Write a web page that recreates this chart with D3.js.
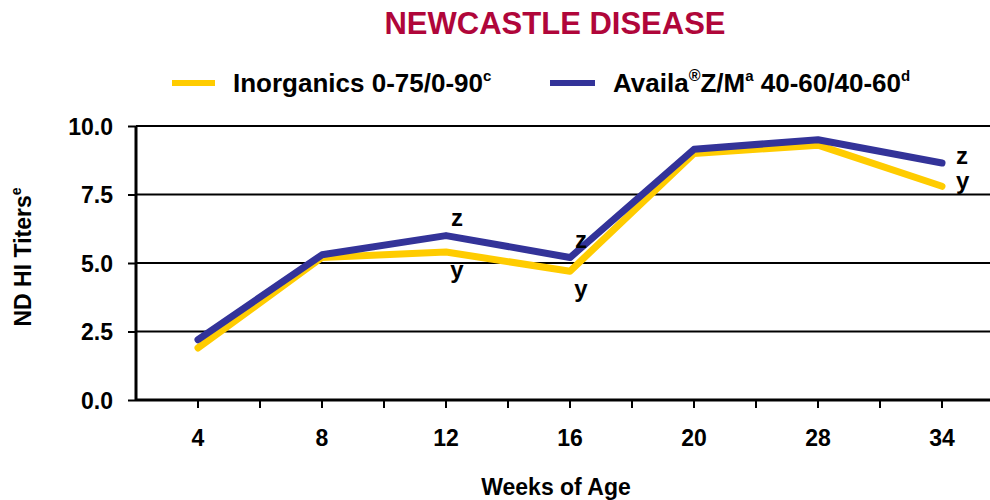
<!DOCTYPE html>
<html><head><meta charset="utf-8">
<script src="https://cdn.jsdelivr.net/npm/d3@7"></script>
<style>body{margin:0;background:#fff}svg{display:block}text{font-family:"Liberation Sans",Arial,sans-serif;font-weight:bold}</style>
</head><body>
<svg id="c" width="990" height="500"></svg>
<script>
const weeks = ["4","8","12","16","20","28","34"];
const inorganics = [1.9, 5.2, 5.4, 4.7, 9.0, 9.3, 7.8];
const availa = [2.2, 5.3, 6.0, 5.2, 9.15, 9.5, 8.65];
const yTicks = [0, 2.5, 5, 7.5, 10];
const annotations = [
  {week:"12", series:"availa", label:"z", pos:"above"},
  {week:"12", series:"inorganics", label:"y", pos:"below"},
  {week:"16", series:"availa", label:"z", pos:"above"},
  {week:"16", series:"inorganics", label:"y", pos:"below"},
  {week:"34", series:"availa", label:"z", pos:"right"},
  {week:"34", series:"inorganics", label:"y", pos:"right"}
];
const svg = d3.select("#c");
const x = d3.scaleBand().domain(weeks).range([136, 1004]);
const y = d3.scaleLinear().domain([0, 10]).range([400, 126]);
const cx = w => x(w) + x.bandwidth()/2;

// gridlines
svg.append("g").selectAll("line").data(yTicks.filter(d=>d>0)).join("line")
  .attr("x1",136).attr("x2",1004).attr("y1",d=>y(d)).attr("y2",d=>y(d))
  .attr("stroke","#000").attr("stroke-width",2);

// y axis
const ya = svg.append("g").attr("transform","translate(136,0)")
  .call(d3.axisLeft(y).tickValues(yTicks).tickFormat(d3.format(".1f")).tickSize(8).tickPadding(15));
ya.select(".domain").attr("stroke-width",3).attr("d","M0,126V400");
ya.selectAll(".tick line").attr("stroke-width",2);
ya.selectAll("text").attr("font-size",23).attr("fill","#000").attr("font-weight","bold").attr("dy","0.36em");

// x axis
const halfTicks = [];
weeks.forEach(w => { halfTicks.push(x(w)); halfTicks.push(cx(w)); });
const xa = svg.append("g");
xa.append("line").attr("x1",136).attr("x2",1004).attr("y1",400).attr("y2",400).attr("stroke","#000").attr("stroke-width",3);
xa.selectAll("line.t").data(halfTicks.slice(1)).join("line").attr("class","t")
  .attr("x1",d=>d).attr("x2",d=>d).attr("y1",400).attr("y2",408).attr("stroke","#000").attr("stroke-width",2);
xa.selectAll("text").data(weeks).join("text")
  .attr("x",d=>cx(d)).attr("y",446).attr("text-anchor","middle").attr("font-size",23).text(d=>d);

// lines
const line = d3.line().x((d,i)=>cx(weeks[i])).y(d=>y(d));
svg.append("path").datum(inorganics).attr("d",line).attr("fill","none")
  .attr("stroke","#FFCC00").attr("stroke-width",7).attr("stroke-linecap","round").attr("stroke-linejoin","round");
svg.append("path").datum(availa).attr("d",line).attr("fill","none")
  .attr("stroke","#333399").attr("stroke-width",7).attr("stroke-linecap","round").attr("stroke-linejoin","round");

// annotations
const ser = {availa, inorganics};
svg.append("g").selectAll("text").data(annotations).join("text")
  .attr("font-size",24).attr("text-anchor",d=>d.pos==="right"?"start":"middle")
  .attr("x",d=>d.pos==="right"? cx(d.week)+14 : cx(d.week)+11)
  .attr("y",d=>{const v=y(ser[d.series][weeks.indexOf(d.week)]);
     return d.pos==="above"? v-10 : d.pos==="below"? v+26 : v+(d.label==="z"?1:3);})
  .text(d=>d.label);

// title
svg.append("text").attr("x",555).attr("y",34).attr("text-anchor","middle")
  .attr("font-size",31).attr("fill","#B0063A").text("NEWCASTLE DISEASE");

// legend
const lg = svg.append("g");
lg.append("line").attr("x1",172).attr("x2",215).attr("y1",83).attr("y2",83).attr("stroke","#FFCC00").attr("stroke-width",6);
const t1 = lg.append("text").attr("x",233).attr("y",92).attr("font-size",26);
t1.append("tspan").text("Inorganics 0-75/0-90");
t1.append("tspan").attr("font-size",15).attr("dy",-11).text("c");
lg.append("line").attr("x1",550).attr("x2",595).attr("y1",83).attr("y2",83).attr("stroke","#333399").attr("stroke-width",6);
const t2 = lg.append("text").attr("x",613).attr("y",92).attr("font-size",26);
t2.append("tspan").text("Availa");
t2.append("tspan").attr("font-size",16).attr("dy",-11).text("®");
t2.append("tspan").attr("dy",11).text("Z/M");
t2.append("tspan").attr("font-size",15).attr("dy",-11).text("a");
t2.append("tspan").attr("dy",11).text(" 40-60/40-60");
t2.append("tspan").attr("font-size",15).attr("dy",-11).text("d");

// axis titles
svg.append("text").attr("x",556).attr("y",495).attr("text-anchor","middle").attr("font-size",23).text("Weeks of Age");
const yt = svg.append("text").attr("transform","translate(31,257) rotate(-90)").attr("text-anchor","middle").attr("font-size",23);
yt.append("tspan").text("ND HI Titers");
yt.append("tspan").attr("font-size",14).attr("dy",-10).text("e");
</script>
</body></html>
